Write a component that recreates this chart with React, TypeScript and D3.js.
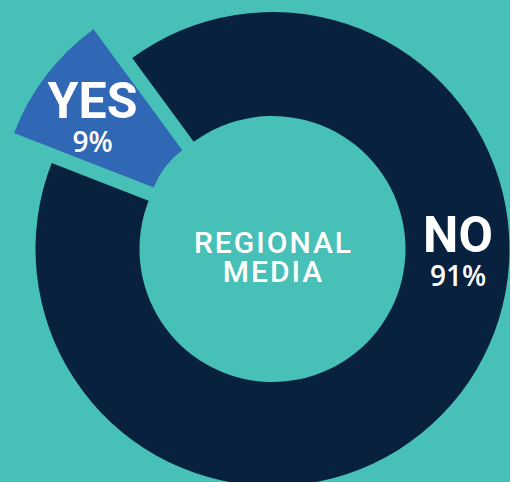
import React, { useEffect, useRef } from "react";
import * as d3 from "d3";

const labels = ["NO", "YES"];
const values = [91, 9];
const pctLabels = ["91%", "9%"];
const centerLines = ["REGIONAL", "MEDIA"];

const W = 510;
const H = 482;
const BG = "#47c0b8";
const COLORS = ["#08213f", "#3168b5"];

const App = () => {
  const ref = useRef<SVGSVGElement>(null);

  useEffect(() => {
    const svg = d3.select(ref.current);
    svg.selectAll("*").remove();

    const cx = 272.5;
    const cy = 249;
    const deg = Math.PI / 180;

    svg.append("rect").attr("width", W).attr("height", H).attr("fill", BG);

    const g = svg.append("g").attr("transform", `translate(${cx},${cy})`);

    const pie = d3
      .pie<number>()
      .sort(null)
      .startAngle(-36.3 * deg)
      .endAngle(323.7 * deg)
      .value((d) => d);

    const slices = pie(values);

    // main ring and the pulled-out slice use different radii
    const arcs = [
      d3.arc<d3.PieArcDatum<number>>().innerRadius(133).outerRadius(237),
      d3.arc<d3.PieArcDatum<number>>().innerRadius(84).outerRadius(234),
    ];
    const explode = [0, 51];
    const labelPos = [
      { angle: 90.5 * deg, r: 185.5 },
      { angle: -54 * deg, r: 172.5 },
    ];

    slices.forEach((s, i) => {
      const mid = (s.startAngle + s.endAngle) / 2;
      const [ox, oy] = d3.pointRadial(mid, explode[i]);
      const sg = g.append("g").attr("transform", `translate(${ox},${oy})`);
      sg.append("path").attr("d", arcs[i](s) as string).attr("fill", COLORS[i]);

      const [lx, ly] = d3.pointRadial(labelPos[i].angle, labelPos[i].r);
      sg.append("text")
        .attr("text-anchor", "middle")
        .attr("fill", "#fff")
        .attr("font-family", "Roboto, sans-serif")
        .attr("x", lx)
        .attr("y", ly + 1.5)
        .attr("font-size", 50)
        .attr("font-weight", 700)
        .text(labels[i]);
      sg.append("text")
        .attr("text-anchor", "middle")
        .attr("fill", "#fff")
        .attr("font-family", "'Open Sans', sans-serif")
        .attr("x", lx)
        .attr("y", ly + 35)
        .attr("font-size", 28)
        .attr("font-weight", 600)
        .text(pctLabels[i]);
    });

    g.selectAll("text.center")
      .data(centerLines)
      .enter()
      .append("text")
      .attr("class", "center")
      .attr("text-anchor", "middle")
      .attr("fill", "#fff")
      .attr("font-family", "Roboto, sans-serif")
      .attr("font-weight", 500)
      .attr("font-size", 30)
      .attr("letter-spacing", 2)
      .attr("x", 1)
      .attr("y", (d, i) => 4 + i * 29)
      .text((d) => d);
  }, []);

  return (
    <svg
      ref={ref}
      width={W}
      height={H}
      style={{ position: "absolute", left: 0, top: 0, display: "block" }}
    />
  );
};

export default App;
